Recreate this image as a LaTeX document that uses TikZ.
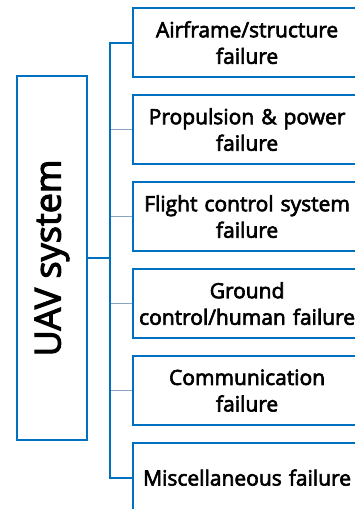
\documentclass[tikz,border=0pt]{standalone}
\usepackage{fontspec}
\setmainfont{Open Sans}[FakeBold=3]
\definecolor{busblue}{HTML}{0070C0}
\definecolor{thinblue}{HTML}{8AA4C0}
\begin{document}
\begin{tikzpicture}[x=1pt,y=-1pt,
  failbox/.style={draw=busblue,line width=2.2pt,minimum width=228pt,minimum height=69pt,
    text width=226pt,align=center,font=\fontsize{21}{26.5}\selectfont,inner sep=0pt,anchor=north west},
  mainbox/.style={draw=busblue,line width=2.2pt,minimum width=364pt,minimum height=70pt,inner sep=0pt},
  thick link/.style={draw=busblue,line width=2.2pt},
  thin link/.style={draw=thinblue,line width=1pt}]
\path[use as bounding box] (0,0) rectangle (355,509);
\begin{scope}
\clip (0,0) rectangle (355,509);
\node[mainbox,rotate=90,font=\fontsize{36}{40}\selectfont] (uav) at (52,258) {UAV system};
\node[failbox] (b1) at (132,7) {Airframe/structure\\failure};
\node[failbox] (b2) at (132,94) {Propulsion \& power\\failure};
\node[failbox] (b3) at (132,181) {Flight control system\\failure};
\node[failbox] (b4) at (132,268) {Ground\\control/human failure};
\node[failbox] (b5) at (132,355) {Communication\\failure};
\node[failbox] (b6) at (132,442) {Miscellaneous failure};
\coordinate (bt) at (110,0 |- b1.west);
\coordinate (bb) at (110,0 |- b6.west);
\draw[thin link] (b2.west) -- (b2.west -| bt);
\draw[thin link] (b3.west) -- (b3.west -| bt);
\draw[thin link] (b4.west) -- (b4.west -| bt);
\draw[thin link] (b5.west) -- (b5.west -| bt);
\draw[thick link] (b1.west) -- (bt) -- (bb) -- (b6.west);
\draw[thick link] (uav.south) -- (uav.south -| bt);
\end{scope}
\end{tikzpicture}
\end{document}
